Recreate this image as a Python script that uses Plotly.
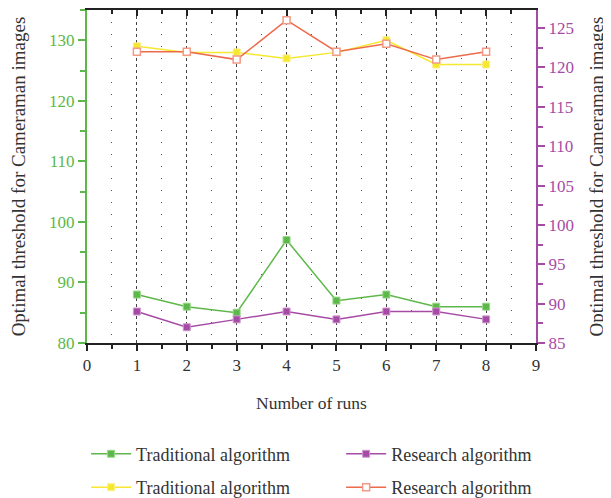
import plotly.graph_objects as go

runs = [1, 2, 3, 4, 5, 6, 7, 8]
trad_low = [88, 86, 85, 97, 87, 88, 86, 86]        # left axis
research_low = [89, 87, 88, 89, 88, 89, 89, 88]    # right axis
trad_high = [129, 128, 128, 127, 128, 130, 126, 126]  # left axis
research_high = [122, 122, 121, 126, 122, 123, 121, 122]  # right axis

x_ticks = [0, 1, 2, 3, 4, 5, 6, 7, 8, 9]
left_ticks = [80, 90, 100, 110, 120, 130]
right_ticks = [85, 90, 95, 100, 105, 110, 115, 120, 125]

GREEN = "#5CB848"
PURPLE = "#A64BA5"
YELLOW = "#F6E82E"
ORANGE = "#EE6A4C"
TXT = "#333333"
FONT = "Liberation Serif"

fig = go.Figure()

fig.add_trace(go.Scatter(x=runs, y=trad_low, name="Traditional algorithm", mode="lines+markers",
                         line=dict(color=GREEN, width=1.5),
                         marker=dict(symbol="square", size=7, color=GREEN, line=dict(color="#9AD68A", width=1)),
                         legend="legend", legendgroup="a", yaxis="y"))
fig.add_trace(go.Scatter(x=runs, y=trad_high, name="Traditional algorithm", mode="lines+markers",
                         line=dict(color=YELLOW, width=1.5),
                         marker=dict(symbol="square", size=7, color=YELLOW, line=dict(color="#FAF08A", width=1)),
                         legend="legend", legendgroup="b", yaxis="y"))
fig.add_trace(go.Scatter(x=runs, y=research_low, name="Research algorithm", mode="lines+markers",
                         line=dict(color=PURPLE, width=1.5),
                         marker=dict(symbol="square", size=7, color=PURPLE, line=dict(color="#CF9ACD", width=1)),
                         legend="legend2", legendgroup="c", yaxis="y2"))
fig.add_trace(go.Scatter(x=runs, y=research_high, name="Research algorithm", mode="lines+markers",
                         line=dict(color=ORANGE, width=1.5),
                         marker=dict(symbol="square", size=7, color="white", line=dict(color="#F29A85", width=1.5)),
                         legend="legend2", legendgroup="d", yaxis="y2"))
# helper trace for the top axis
fig.add_trace(go.Scatter(x=[0], y=[80], xaxis="x2", yaxis="y", mode="markers",
                         marker=dict(opacity=0), showlegend=False, hoverinfo="skip"))

fig.update_layout(
    width=603, height=490,
    margin=dict(l=79, r=75, t=2, b=155, autoexpand=False),
    plot_bgcolor="white", paper_bgcolor="white",
    font=dict(family=FONT, size=17, color=TXT),
    xaxis=dict(range=[0, 9], tickvals=x_ticks, ticks="outside", ticklen=6, tickwidth=1.5,
               tickcolor="#222", showline=True, linecolor="#222", linewidth=2,
               showgrid=True, gridcolor="#444", griddash="dot", gridwidth=1,
               minor=dict(dtick=0.5, ticks="outside", ticklen=4, tickcolor="#222",
                          showgrid=True, gridcolor="#555", griddash="1px,11px", gridwidth=1),
               zeroline=False, automargin=False,
               title=dict(text="Number of runs", font=dict(size=17.5, color=TXT), standoff=22),
               tickfont=dict(size=17, color=TXT)),
    xaxis2=dict(range=[0, 9], overlaying="x", side="top", tickvals=x_ticks, ticks="inside",
                ticklen=6, tickwidth=1.5, tickcolor="#222", showline=True, linecolor="#222",
                linewidth=2, showticklabels=False, showgrid=False, zeroline=False, automargin=False,
                minor=dict(dtick=0.5, ticks="inside", ticklen=4, tickcolor="#222", showgrid=False)),
    yaxis=dict(range=[80, 135], tickvals=left_ticks, ticks="outside", ticklen=7, tickwidth=1.5,
               tickcolor=GREEN, showline=True, linecolor=GREEN, linewidth=2,
               showgrid=False, zeroline=False, automargin=False,
               minor=dict(dtick=5, ticks="outside", ticklen=5, tickcolor=GREEN),
               tickfont=dict(size=17, color=GREEN),
               title=dict(text="Optimal threshold for Cameraman images", font=dict(size=19, color=TXT), standoff=19)),
    yaxis2=dict(range=[85, 127.3], overlaying="y", side="right", tickvals=right_ticks, ticks="outside",
                ticklen=7, tickwidth=1.5, tickcolor=PURPLE, showline=True, linecolor=PURPLE,
                linewidth=2, showgrid=False, zeroline=False, automargin=False,
                minor=dict(dtick=2.5, ticks="outside", ticklen=5, tickcolor=PURPLE),
                tickfont=dict(size=17, color=PURPLE),
                title=dict(text="Optimal threshold for Cameraman images", font=dict(size=19, color=TXT), standoff=17)),
    legend=dict(x=-0.002, y=-0.278, xanchor="left", yanchor="top", orientation="v", itemwidth=40,
                tracegroupgap=7, font=dict(size=18, color=TXT), bgcolor="rgba(0,0,0,0)"),
    legend2=dict(x=0.566, y=-0.278, xanchor="left", yanchor="top", orientation="v", itemwidth=40,
                 tracegroupgap=7, font=dict(size=18, color=TXT), bgcolor="rgba(0,0,0,0)"),
)

fig.write_html("out.html")
